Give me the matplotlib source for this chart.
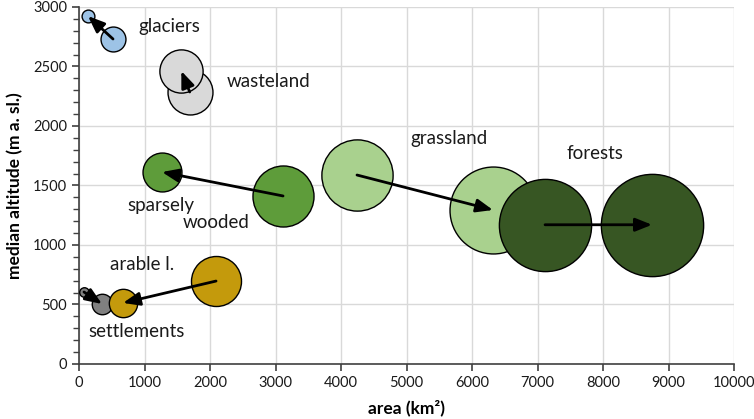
import matplotlib
matplotlib.use("Agg")
import matplotlib.pyplot as plt
from matplotlib.ticker import MultipleLocator

plt.rcParams['font.family'] = ['Lato', 'DejaVu Sans']

# data: each land-cover class has a "from" and a "to" state; bubble size = area
categories = ['glaciers', 'wasteland', 'sparsely wooded', 'grassland', 'forests', 'arable l.', 'settlements']
area_from = [519, 1690, 3115, 4244, 7115, 2092, 76]
alt_from = [2731, 2286, 1412, 1588, 1170, 697, 605]
area_to = [137, 1562, 1267, 6320, 8748, 672, 351]
alt_to = [2924, 2462, 1613, 1294, 1170, 513, 504]
colors = ['#9DC3E6', '#D9D9D9', '#5E9C3A', '#A9D18E', '#375623', '#C49A0C', '#808080']

# label text and placement
label_texts = ['glaciers', 'wasteland', 'sparsely', 'wooded', 'grassland', 'forests', 'arable l.', 'settlements']
label_x = [900, 2260, 733, 1588, 5053, 7450, 473, 137]
label_y = [2840, 2378, 1336, 1193, 1899, 1765, 832, 269]

x_ticks = list(range(0, 10001, 1000))
y_ticks = list(range(0, 3001, 500))

size_scale = 0.62

fig = plt.figure(figsize=(7.54, 4.19), dpi=100)
ax = fig.add_axes([0.1048, 0.1313, 0.8687, 0.852])

# draw order ("from" first, then "to")
order = [3, 4, 2, 1, 0, 6, 5]
for i in order:
    ax.scatter([area_from[i]], [alt_from[i]], s=area_from[i] * size_scale,
               color=colors[i], edgecolor='black', linewidth=1.0, zorder=3)
    ax.scatter([area_to[i]], [alt_to[i]], s=area_to[i] * size_scale,
               color=colors[i], edgecolor='black', linewidth=1.0, zorder=3)

for i in range(len(categories)):
    ax.annotate('', xy=(area_to[i], alt_to[i]), xytext=(area_from[i], alt_from[i]),
                arrowprops=dict(arrowstyle='-|>,head_length=1.0,head_width=0.4',
                                color='black', lw=2, shrinkA=0, shrinkB=0,
                                mutation_scale=10),
                zorder=5)

for t, x, y in zip(label_texts, label_x, label_y):
    ax.text(x, y, t, ha='left', va='center', fontsize=13.5, color='#1a1a1a', zorder=6)

ax.set_xlim(0, 10000)
ax.set_ylim(0, 3000)
ax.set_xticks(x_ticks)
ax.set_yticks(y_ticks)
ax.yaxis.set_minor_locator(MultipleLocator(100))
ax.grid(True, color='#D9D9D9', linewidth=1, zorder=0)
ax.set_axisbelow(True)
for s in ['top', 'right']:
    ax.spines[s].set_visible(False)
for s in ['left', 'bottom']:
    ax.spines[s].set_color('#404040')
    ax.spines[s].set_linewidth(1.2)
ax.tick_params(axis='both', which='major', direction='out', length=5, width=1.2,
               color='#404040', labelsize=10.5, labelcolor='#1a1a1a')
ax.tick_params(axis='y', which='minor', direction='out', length=4, width=1.0, color='#404040')
ax.set_xlabel('area (km²)', fontsize=12.5, fontweight='bold', labelpad=7)
ax.set_ylabel('median altitude (m a. sl.)', fontsize=12.5, fontweight='bold', labelpad=7)

fig.savefig('out.png', dpi=100)
